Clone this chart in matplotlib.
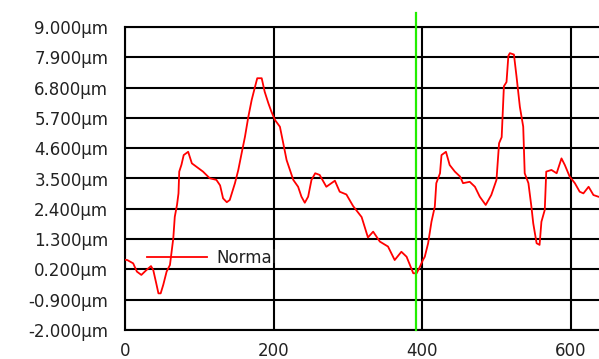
import matplotlib
matplotlib.use("Agg")
import matplotlib.pyplot as plt

# ---- data ----
x_vals = [0, 3, 11, 16, 22, 29, 35, 38, 42, 45, 48, 51.5, 56, 60.5, 63, 65, 67, 70, 72, 73,
          76, 79, 85, 90, 96, 105, 114, 123, 128, 132, 137, 141, 148, 152.5, 157, 161.5, 166,
          170.5, 175, 178, 184, 188, 193, 197, 202, 208.5, 213, 217.5, 222, 226.5, 233, 237.5,
          242, 246.5, 251, 256, 262, 271, 282.5, 289, 298, 307, 318.5, 327, 334, 343, 354, 363,
          372, 379, 388, 392.5, 397, 401, 403.5, 408, 412.5, 417, 419, 424, 426, 432, 437, 444,
          451, 455, 464, 471, 477.5, 485.5, 493, 500, 503.5, 507, 510, 513.5, 516, 518, 523.5,
          527, 531.5, 536, 538, 543, 547, 549.5, 554, 558, 560.5, 565, 567, 574, 581, 587.5,
          592, 598.5, 605.5, 612, 617, 624, 630.5, 637]
y_vals = [0.55, 0.54, 0.42, 0.12, 0.0, 0.18, 0.32, 0.18, -0.3, -0.67, -0.67, -0.36, 0.12, 0.36,
          0.9, 1.33, 2.11, 2.54, 2.96, 3.75, 4.0, 4.35, 4.47, 4.05, 3.93, 3.75, 3.51, 3.45, 3.25,
          2.78, 2.64, 2.72, 3.33, 3.81, 4.42, 5.02, 5.74, 6.35, 6.83, 7.14, 7.14, 6.65, 6.23,
          5.93, 5.62, 5.38, 4.78, 4.17, 3.81, 3.45, 3.2, 2.84, 2.62, 2.84, 3.45, 3.69, 3.63, 3.2,
          3.42, 3.02, 2.92, 2.5, 2.1, 1.36, 1.57, 1.21, 1.03, 0.54, 0.84, 0.66, 0.06, 0.06, 0.30,
          0.54, 0.66, 1.15, 1.93, 2.48, 3.33, 3.69, 4.35, 4.47, 3.99, 3.75, 3.57, 3.33, 3.38,
          3.2, 2.84, 2.54, 2.9, 3.45, 4.78, 5.0, 6.85, 7.0, 7.95, 8.05, 8.0, 7.2, 6.1, 5.38,
          3.69, 3.33, 2.48, 1.87, 1.15, 1.09, 1.93, 2.36, 3.75, 3.81, 3.69, 4.23, 3.99, 3.57,
          3.33, 3.02, 2.96, 3.2, 2.9, 2.84]
series_name = "Normal"
cursor_x = 392
y_ticks = [-2.0, -0.9, 0.2, 1.3, 2.4, 3.5, 4.6, 5.7, 6.8, 7.9, 9.0]
y_tick_labels = [f"{v:.3f}\u00b5m" for v in y_ticks]
x_ticks = [0, 200, 400, 600]
x_tick_labels = ["0", "200", "400", "600"]

# ---- figure ----
W, H = 599, 359
fig = plt.figure(figsize=(W / 100, H / 100), dpi=100)
left_px, right_px, top_px, bottom_px = 125, 599, 27, 330
ax = fig.add_axes([left_px / W, (H - bottom_px) / H,
                   (right_px - left_px) / W, (bottom_px - top_px) / H])

ax.set_xlim(0, 638)
ax.set_ylim(-2.0, 9.0)

ax.plot(x_vals, y_vals, color="#ff0000", lw=1.3, label=series_name, zorder=3)

ax.axvline(cursor_x, ymin=0, ymax=(9.5 + 2.0) / 11.0, color="#22ee00", lw=1.6,
           clip_on=False, zorder=4)

ax.set_yticks(y_ticks)
ax.set_yticklabels(y_tick_labels)
ax.set_xticks(x_ticks)
ax.set_xticklabels(x_tick_labels)

fs = 12
ax.tick_params(axis="y", length=0, pad=12, labelsize=fs, labelcolor="#222222")
ax.tick_params(axis="x", length=0, pad=9, labelsize=fs, labelcolor="#222222")

ax.grid(True, color="black", lw=1.5, zorder=1)
ax.set_axisbelow(True)
for side in ["left", "bottom", "top"]:
    ax.spines[side].set_color("black")
    ax.spines[side].set_linewidth(1.5)
ax.spines["right"].set_visible(False)

fs_px = fs * 100 / 72
leg = ax.legend(loc="center left",
                bbox_to_anchor=((147 - left_px) / (right_px - left_px),
                                (bottom_px - 258) / (bottom_px - top_px)),
                frameon=False, fontsize=fs, handlelength=60 / fs_px,
                handletextpad=9 / fs_px, borderpad=0, borderaxespad=0)
for t in leg.get_texts():
    t.set_color("#222222")

fig.savefig("out.png", dpi=100, facecolor="white")
